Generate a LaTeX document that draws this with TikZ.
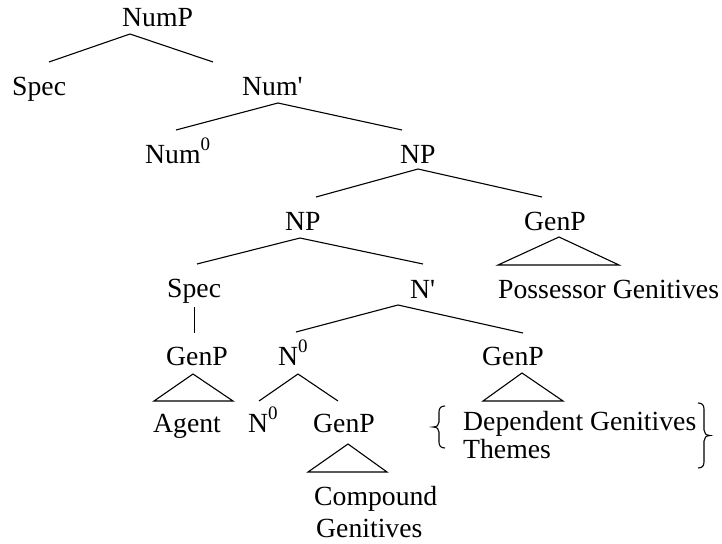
\documentclass[tikz,border=0pt]{standalone}
\usepackage{fontspec}
\setmainfont{Liberation Serif}[Ligatures=TeXOff]
\newcommand{\zerosup}{\raisebox{13pt}{\fontsize{19}{19}\selectfont 0}}
\begin{document}
\begin{tikzpicture}[x=1pt,y=-1pt,
  lbl/.style={anchor=base west,inner sep=0pt,font=\fontsize{27.7}{33}\selectfont},
  branch/.style={line width=1.1pt},
  brace/.style={line width=1.1pt}]
\useasboundingbox (0,0) rectangle (722,543);

% category labels
\node[lbl] (nump)  at (122,27)  {NumP};
\node[lbl] (spec1) at (12,95)   {Spec};
\node[lbl] (numb)  at (242,95)  {Num'};
\node[lbl] (num0)  at (145,163) {Num\zerosup};
\node[lbl] (np1)   at (400,163) {NP};
\node[lbl] (np2)   at (285,230) {NP};
\node[lbl] (genp1) at (524,230) {GenP};
\node[lbl] (poss)  at (498,298) {Possessor Genitives};
\node[lbl] (spec2) at (167,297) {Spec};
\node[lbl] (nbar)  at (410,298) {N'};
\node[lbl] (genp2) at (166,365) {GenP};
\node[lbl] (agent) at (153,432) {Agent};
\node[lbl] (n0a)   at (278,365) {N\zerosup};
\node[lbl] (genp3) at (482,365) {GenP};
\node[lbl] (n0b)   at (248,432) {N\zerosup};
\node[lbl] (genp4) at (313,432) {GenP};
\node[lbl] (dep)   at (463,430) {Dependent Genitives};
\node[lbl] (theme) at (463,458) {Themes};
\node[lbl] (comp)  at (314,505) {Compound};
\node[lbl] (gens)  at (316,537) {Genitives};

% branch points
\coordinate (nump-a) at (130,34);
\coordinate (spec1-t) at (49,62);
\coordinate (numb-t) at (213,62);
\coordinate (numb-a) at (278,103);
\coordinate (num0-t) at (176,130);
\coordinate (np1-t) at (402,130);
\coordinate (np1-a) at (418,169);
\coordinate (np2-t) at (316,197);
\coordinate (genp1-t) at (542,197);
\coordinate (np2-a) at (300,238);
\coordinate (spec2-t) at (197,264);
\coordinate (nbar-t) at (423,264);
\coordinate (spec2-a) at (194.5,307);
\coordinate (genp2-t) at (194.5,333);
\coordinate (nbar-a) at (398,305);
\coordinate (n0a-t) at (296,332);
\coordinate (genp3-t) at (523,333);
\coordinate (n0a-a) at (298,374);
\coordinate (n0b-t) at (259,401);
\coordinate (genp4-t) at (338,401);

% branches
\draw[branch] (spec1-t) -- (nump-a) -- (numb-t);
\draw[branch] (num0-t) -- (numb-a) -- (np1-t);
\draw[branch] (np2-t) -- (np1-a) -- (genp1-t);
\draw[branch] (spec2-t) -- (np2-a) -- (nbar-t);
\draw[branch] (spec2-a) -- (genp2-t);
\draw[branch] (n0a-t) -- (nbar-a) -- (genp3-t);
\draw[branch] (n0b-t) -- (n0a-a) -- (genp4-t);

% roof triangles
\draw[branch] (559,237) -- (498,265) -- (619,265) -- cycle;
\draw[branch] (193,374) -- (154,401) -- (233,401) -- cycle;
\draw[branch] (522,373) -- (483,401) -- (563,401) -- cycle;
\draw[branch] (348,444) -- (308,472) -- (387,472) -- cycle;

% braces round the dependent genitives
\draw[brace] (445,406) .. controls (441,406) and (439,408) .. (439,412) -- (439,422)
  .. controls (439,425) and (437,427) .. (433,427)
  .. controls (437,427) and (439,429) .. (439,432) -- (439,442)
  .. controls (439,446) and (441,448) .. (445,448);
\draw[brace] (698,403) .. controls (702,403) and (704,405) .. (704,409) -- (704,430)
  .. controls (704,433) and (706,435.5) .. (710,435.5)
  .. controls (706,435.5) and (704,438) .. (704,441) -- (704,462)
  .. controls (704,466) and (702,468) .. (698,468);
\end{tikzpicture}
\end{document}
